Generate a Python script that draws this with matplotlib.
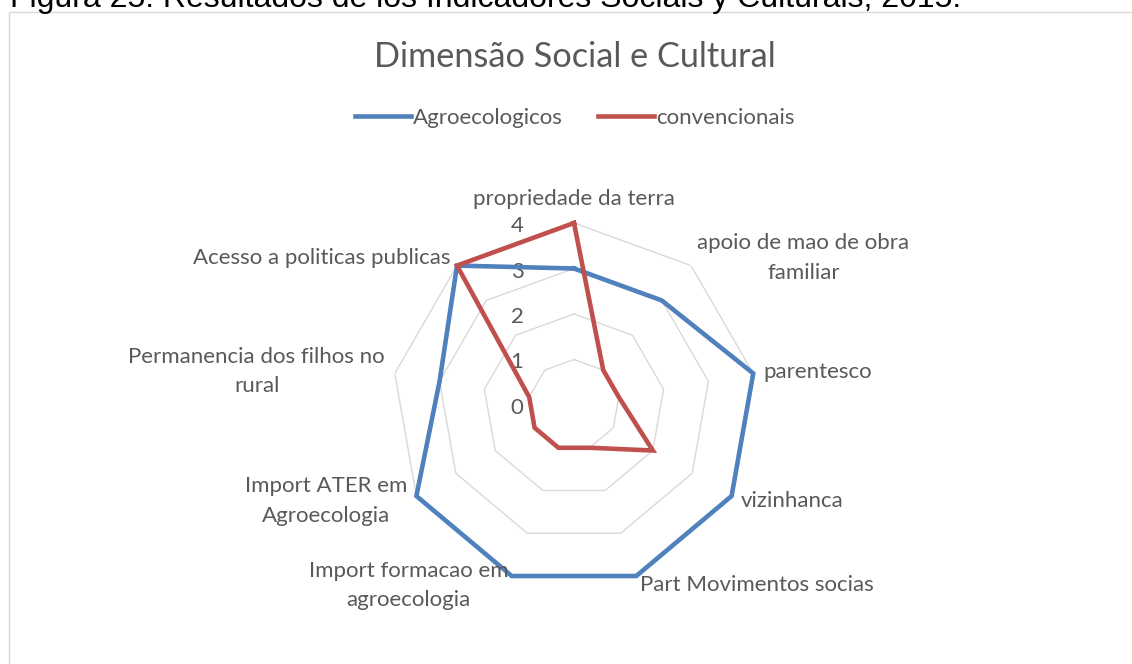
import numpy as np
import matplotlib
matplotlib.use("Agg")
import matplotlib.pyplot as plt
from matplotlib.patches import Rectangle

categories = ["propriedade da terra", "apoio de mao de obra\nfamiliar", "parentesco",
              "vizinhanca", "Part Movimentos socias", "Import formacao em\nagroecologia",
              "Import ATER em\nAgroecologia", "Permanencia dos filhos no\nrural",
              "Acesso a politicas publicas"]
agroecologicos = [3, 3, 4, 4, 4, 4, 4, 3, 4]
convencionais = [4, 1, 1, 2, 1, 1, 1, 1, 4]
ticks = [0, 1, 2, 3, 4]

title = "Dimensão Social e Cultural"
header = "Figura 25: Resultados de los Indicadores Sociais y Culturais, 2015."

W, H = 1132, 664
fig = plt.figure(figsize=(W / 100, H / 100), dpi=100)
FONT = "Lato"
GRAY = "#595959"
FS = 16

# chart border
fig.patches.append(Rectangle((8.5 / W, -0.01), (W - 8.5) / W + 0.02, (H - 12) / H + 0.01,
                             transform=fig.transFigure, fill=False,
                             edgecolor="#D9D9D9", lw=1.0))
fig.text(10 / W, 1 - 7 / H, header, fontsize=23, family="Liberation Sans",
         color="black", va="baseline", ha="left")

cx, cy, R = 574, 405, 182
ax = fig.add_axes([(cx - R) / W, (H - cy - R) / H, 2 * R / W, 2 * R / H], projection="polar")
ax.set_theta_zero_location("N")
ax.set_theta_direction(-1)
ax.set_ylim(0, 4)
ax.grid(False)
ax.spines["polar"].set_visible(False)
ax.set_xticks([])
ax.set_yticks([])
ax.patch.set_alpha(0)

n = len(categories)
ang = np.linspace(0, 2 * np.pi, n, endpoint=False)
angc = np.append(ang, ang[0])

for r in ticks[1:]:
    ax.plot(angc, [r] * (n + 1), color="#D9D9D9", lw=1.0, zorder=1)

for r in ticks:
    ax.annotate(str(r), xy=(0, r), xytext=(-57, -3), textcoords="offset pixels",
                ha="center", va="center", fontsize=FS, family=FONT, color=GRAY)

ax.plot(angc, agroecologicos + agroecologicos[:1], color="#4F81BD", lw=3.3,
        solid_joinstyle="miter", zorder=3, label="Agroecologicos", clip_on=False)
ax.plot(angc, convencionais + convencionais[:1], color="#C0504D", lw=3.3,
        solid_joinstyle="miter", zorder=4, label="convencionais", clip_on=False)

for a, lab in zip(ang, categories):
    s, c = np.sin(a), np.cos(a)
    if abs(s) < 0.1:
        ha = "center"
    elif s > 0:
        ha = "left"
    else:
        ha = "right"
    if abs(s) < 0.1 and c > 0:
        va, d = "bottom", 14
    else:
        va, d = "center", 10
    ax.annotate(lab, xy=(a, 4), xytext=(d * s, d * c), textcoords="offset pixels",
                ha=ha, va=va, ma="center", fontsize=FS, family=FONT, color=GRAY,
                linespacing=1.6)

fig.text(575 / W, 1 - 57 / H, title, ha="center", va="center", fontsize=24.7,
         family=FONT, color=GRAY)
fig.legend(loc="center", bbox_to_anchor=(575 / W, 1 - 118 / H), ncol=2, frameon=False,
           prop={"family": FONT, "size": FS}, labelcolor=GRAY, handlelength=2.5,
           handletextpad=0.1, columnspacing=1.6)

fig.savefig("out.png", dpi=100)
